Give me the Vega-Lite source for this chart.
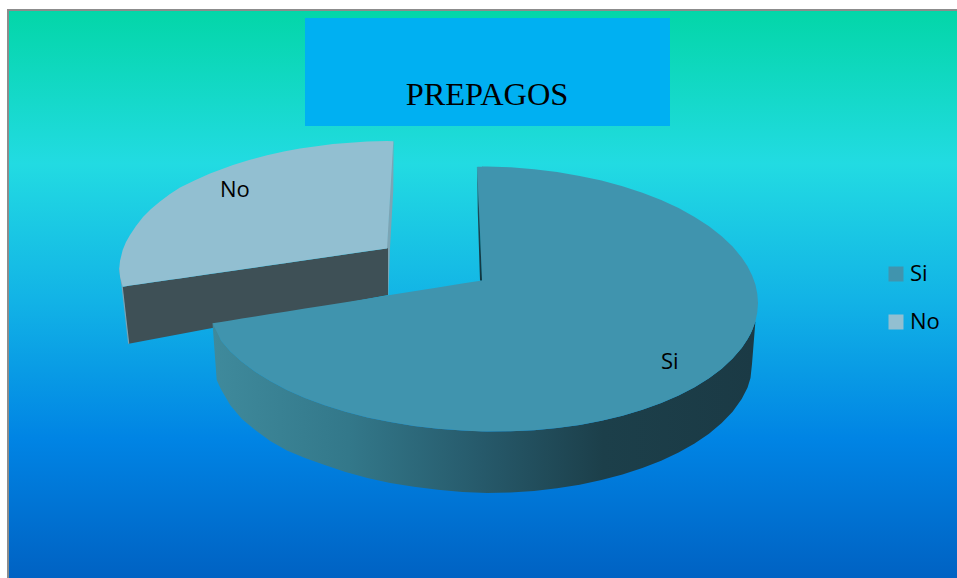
{
  "$schema": "https://vega.github.io/schema/vega-lite/v6.json",
  "width": 957,
  "height": 578,
  "padding": 0,
  "autosize": "none",
  "background": "#ffffff",
  "config": {"view": {"stroke": null}},
  "datasets": {
    "panel": [{"x": 8, "x2": 970, "y": 10, "y2": 590}],
    "titleBox": [{"x": 305, "x2": 670, "y": 18, "y2": 126}],
    "titleText": [{"x": 487, "y": 105, "label": "PREPAGOS"}],
    "faces": [
      {"series": "Si", "x": 212.5, "y": 323.3, "y2": 323.3},
      {"series": "Si", "x": 221.1, "y": 321.9, "y2": 340.5},
      {"series": "Si", "x": 230.5, "y": 320.4, "y2": 351.4},
      {"series": "Si", "x": 241.9, "y": 318.6, "y2": 361.8},
      {"series": "Si", "x": 255.2, "y": 316.5, "y2": 371.7},
      {"series": "Si", "x": 270.2, "y": 314.1, "y2": 381.1},
      {"series": "Si", "x": 286.9, "y": 311.5, "y2": 389.9},
      {"series": "Si", "x": 305, "y": 308.6, "y2": 397.9},
      {"series": "Si", "x": 324.7, "y": 305.5, "y2": 405.2},
      {"series": "Si", "x": 345.5, "y": 302.2, "y2": 411.7},
      {"series": "Si", "x": 367.4, "y": 298.7, "y2": 417.4},
      {"series": "Si", "x": 390.2, "y": 295.1, "y2": 422.1},
      {"series": "Si", "x": 413.8, "y": 291.3, "y2": 426},
      {"series": "Si", "x": 437.9, "y": 287.5, "y2": 428.8},
      {"series": "Si", "x": 462.3, "y": 283.6, "y2": 430.6},
      {"series": "Si", "x": 481.9, "y": 280.5, "y2": 431.4},
      {"series": "Si", "x": 482, "y": 166.4, "y2": 431.4},
      {"series": "Si", "x": 487, "y": 166.5, "y2": 431.5},
      {"series": "Si", "x": 510.6, "y": 167.3, "y2": 431.3},
      {"series": "Si", "x": 534, "y": 169.2, "y2": 430.2},
      {"series": "Si", "x": 557.1, "y": 172, "y2": 428},
      {"series": "Si", "x": 579.7, "y": 175.9, "y2": 424.9},
      {"series": "Si", "x": 601.5, "y": 180.6, "y2": 420.8},
      {"series": "Si", "x": 622.5, "y": 186.3, "y2": 415.7},
      {"series": "Si", "x": 642.4, "y": 192.8, "y2": 409.8},
      {"series": "Si", "x": 661.2, "y": 200.1, "y2": 403.1},
      {"series": "Si", "x": 678.6, "y": 208.1, "y2": 395.5},
      {"series": "Si", "x": 694.6, "y": 216.9, "y2": 387.3},
      {"series": "Si", "x": 709, "y": 226.3, "y2": 378.3},
      {"series": "Si", "x": 721.7, "y": 236.2, "y2": 368.7},
      {"series": "Si", "x": 732.6, "y": 246.6, "y2": 358.6},
      {"series": "Si", "x": 741.7, "y": 257.5, "y2": 348.1},
      {"series": "Si", "x": 747.5, "y": 266.3, "y2": 339.3},
      {"series": "Si", "x": 752.1, "y": 275.4, "y2": 330.4},
      {"series": "Si", "x": 755.4, "y": 284.5, "y2": 321.4},
      {"series": "Si", "x": 757.3, "y": 293.7, "y2": 312.2},
      {"series": "Si", "x": 758, "y": 303, "y2": 303},
      {"series": "No", "x": 119.3, "y": 268, "y2": 268},
      {"series": "No", "x": 120, "y": 261, "y2": 276.5},
      {"series": "No", "x": 122.7, "y": 250, "y2": 286.7},
      {"series": "No", "x": 126, "y": 242, "y2": 286.2},
      {"series": "No", "x": 130, "y": 235, "y2": 285.6},
      {"series": "No", "x": 136, "y": 226, "y2": 284.8},
      {"series": "No", "x": 143, "y": 217, "y2": 283.8},
      {"series": "No", "x": 151, "y": 209, "y2": 282.6},
      {"series": "No", "x": 160, "y": 201.5, "y2": 281.3},
      {"series": "No", "x": 170, "y": 194, "y2": 279.8},
      {"series": "No", "x": 180, "y": 187.5, "y2": 278.4},
      {"series": "No", "x": 195, "y": 180.2, "y2": 276.2},
      {"series": "No", "x": 210, "y": 173.5, "y2": 274},
      {"series": "No", "x": 233, "y": 165, "y2": 270.7},
      {"series": "No", "x": 250, "y": 159.7, "y2": 268.3},
      {"series": "No", "x": 267, "y": 155.3, "y2": 265.8},
      {"series": "No", "x": 285, "y": 151.3, "y2": 263.2},
      {"series": "No", "x": 300, "y": 148.6, "y2": 261},
      {"series": "No", "x": 333, "y": 144, "y2": 256.2},
      {"series": "No", "x": 367, "y": 141.6, "y2": 251.3},
      {"series": "No", "x": 387, "y": 141, "y2": 248.4},
      {"series": "No", "x": 393.3, "y": 141.2, "y2": 141.2}
    ],
    "siFaceEdge": [
      {"y": 166.7, "x": 477.3, "x2": 483},
      {"y": 280.5, "x": 482, "x2": 483}
    ],
    "noInnerWall": [
      {"x": 122.3, "y": 287, "y2": 287},
      {"x": 128.7, "y": 285.8, "y2": 343.7},
      {"x": 388, "y": 248.3, "y2": 295}
    ],
    "noRimEdge": [
      {"y": 141.5, "x": 393, "x2": 393.6},
      {"y": 190, "x": 390, "x2": 393.3},
      {"y": 248.3, "x": 386.5, "x2": 390},
      {"y": 295, "x": 387.8, "x2": 388.4}
    ],
    "noOuterEdge": [
      {"x": 119.5, "y": 268},
      {"x": 122.2, "y": 287},
      {"x": 128.7, "y": 343.7}
    ],
    "siOuterWall": [
      {"x": 212.5, "y": 323.3, "y2": 323.3},
      {"x": 216.7, "y": 329, "y2": 380},
      {"x": 221.1, "y": 340.5, "y2": 389.5},
      {"x": 230.5, "y": 351.4, "y2": 405.5},
      {"x": 241.9, "y": 361.8, "y2": 419},
      {"x": 255.2, "y": 371.7, "y2": 430},
      {"x": 270.2, "y": 381.1, "y2": 441},
      {"x": 286.9, "y": 389.9, "y2": 450.5},
      {"x": 305, "y": 397.9, "y2": 458},
      {"x": 324.7, "y": 405.2, "y2": 465},
      {"x": 345.5, "y": 411.7, "y2": 472},
      {"x": 367.4, "y": 417.4, "y2": 478},
      {"x": 390.2, "y": 422.1, "y2": 483},
      {"x": 413.8, "y": 426, "y2": 486.8},
      {"x": 437.9, "y": 428.8, "y2": 489.8},
      {"x": 462.3, "y": 430.6, "y2": 492},
      {"x": 487, "y": 431.5, "y2": 493},
      {"x": 510.6, "y": 431.3, "y2": 492.5},
      {"x": 534, "y": 430.2, "y2": 490.9},
      {"x": 557.1, "y": 428, "y2": 488.3},
      {"x": 579.7, "y": 424.9, "y2": 484.7},
      {"x": 601.5, "y": 420.8, "y2": 480.1},
      {"x": 622.5, "y": 415.7, "y2": 474.6},
      {"x": 642.4, "y": 409.8, "y2": 468.1},
      {"x": 661.2, "y": 403.1, "y2": 460.8},
      {"x": 678.6, "y": 395.5, "y2": 452.6},
      {"x": 694.6, "y": 387.3, "y2": 443.5},
      {"x": 709, "y": 378.3, "y2": 433.7},
      {"x": 721.7, "y": 368.7, "y2": 423.1},
      {"x": 732.6, "y": 358.6, "y2": 411.7},
      {"x": 741.7, "y": 348.1, "y2": 399},
      {"x": 747.5, "y": 339.3, "y2": 387.7},
      {"x": 750.5, "y": 334, "y2": 378},
      {"x": 752, "y": 330.4, "y2": 364},
      {"x": 755.4, "y": 321.4, "y2": 321.4}
    ],
    "siInnerSliver": [
      {"y": 167, "x": 476.9, "x2": 477.3},
      {"y": 213, "x": 477.8, "x2": 479.2},
      {"y": 280.5, "x": 480, "x2": 482}
    ],
    "sliceLabels": [
      {"x": 220, "y": 197, "label": "No"},
      {"x": 661, "y": 369, "label": "Si"}
    ]
  },
  "encoding": {
    "x": {"field": "x", "type": "quantitative", "axis": null, "stack": null, "scale": {"domain": [0, 957], "range": [0, 957], "nice": false, "zero": false}},
    "y": {"field": "y", "type": "quantitative", "axis": null, "stack": null, "scale": {"domain": [0, 578], "range": [0, 578], "nice": false, "zero": false}}
  },
  "layer": [
    {
      "data": {"name": "panel"},
      "mark": {
        "type": "rect",
        "stroke": "#8c8c8c",
        "strokeWidth": 2,
        "color": {
          "gradient": "linear",
          "x1": 0, "y1": 0, "x2": 0, "y2": 1,
          "stops": [
            {"offset": 0, "color": "#03d6a8"},
            {"offset": 0.265, "color": "#22dbe2"},
            {"offset": 0.5, "color": "#12b3e6"},
            {"offset": 0.74, "color": "#0084e4"},
            {"offset": 1, "color": "#005fc0"}
          ]
        }
      },
      "encoding": {"x2": {"field": "x2"}, "y2": {"field": "y2"}}
    },
    {
      "data": {"name": "titleBox"},
      "mark": {"type": "rect", "color": "#00b0f2"},
      "encoding": {"x2": {"field": "x2"}, "y2": {"field": "y2"}}
    },
    {
      "data": {"name": "titleText"},
      "mark": {"type": "text", "font": "Liberation Serif", "fontSize": 32.4, "color": "#000000", "align": "center", "baseline": "alphabetic"},
      "encoding": {"text": {"field": "label"}}
    },
    {
      "data": {"name": "noRimEdge"},
      "mark": {"type": "area", "orient": "horizontal", "color": "#7ba5b5"},
      "encoding": {"x2": {"field": "x2"}}
    },
    {
      "data": {"name": "noInnerWall"},
      "mark": {"type": "area", "orient": "vertical", "color": "#3e5056"},
      "encoding": {"y2": {"field": "y2"}}
    },
    {
      "data": {"name": "noOuterEdge"},
      "mark": {"type": "line", "color": "#7aa3b5", "strokeWidth": 1.2},
      "encoding": {}
    },
    {
      "data": {"name": "siOuterWall"},
      "mark": {
        "type": "area",
        "orient": "vertical",
        "color": {
          "gradient": "linear",
          "x1": 0, "y1": 0, "x2": 1, "y2": 0,
          "stops": [
            {"offset": 0, "color": "#3f8a9c"},
            {"offset": 0.25, "color": "#33788a"},
            {"offset": 0.5, "color": "#26596a"},
            {"offset": 0.72, "color": "#1c3f4a"},
            {"offset": 1, "color": "#1b3a45"}
          ]
        }
      },
      "encoding": {"y2": {"field": "y2"}}
    },
    {
      "data": {"name": "faces"},
      "mark": {"type": "area", "orient": "vertical"},
      "encoding": {
        "y2": {"field": "y2"},
        "color": {
          "field": "series",
          "type": "nominal",
          "scale": {"domain": ["Si", "No"], "range": ["#4094ae", "#92bfd1"]},
          "legend": {
            "orient": "none",
            "legendX": 885,
            "legendY": 263,
            "title": null,
            "padding": 0,
            "symbolType": "square",
            "symbolSize": 225,
            "symbolStrokeWidth": 0,
            "symbolOpacity": 1,
            "labelFont": "Open Sans",
            "labelFontSize": 22,
            "labelColor": "#000000",
            "labelOffset": 3,
            "rowPadding": 26
          }
        }
      }
    },
    {
      "data": {"name": "siFaceEdge"},
      "mark": {"type": "area", "orient": "horizontal", "color": "#4094ae"},
      "encoding": {"x2": {"field": "x2"}}
    },
    {
      "data": {"name": "siInnerSliver"},
      "mark": {
        "type": "area",
        "orient": "horizontal",
        "color": {
          "gradient": "linear",
          "x1": 0, "y1": 0, "x2": 0, "y2": 1,
          "stops": [
            {"offset": 0, "color": "#3a7f92"},
            {"offset": 0.4, "color": "#1c4a58"},
            {"offset": 1, "color": "#12333c"}
          ]
        }
      },
      "encoding": {"x2": {"field": "x2"}}
    },
    {
      "data": {"name": "sliceLabels"},
      "mark": {"type": "text", "font": "Open Sans", "fontSize": 22, "color": "#000000", "align": "left", "baseline": "alphabetic"},
      "encoding": {"text": {"field": "label"}}
    }
  ]
}
